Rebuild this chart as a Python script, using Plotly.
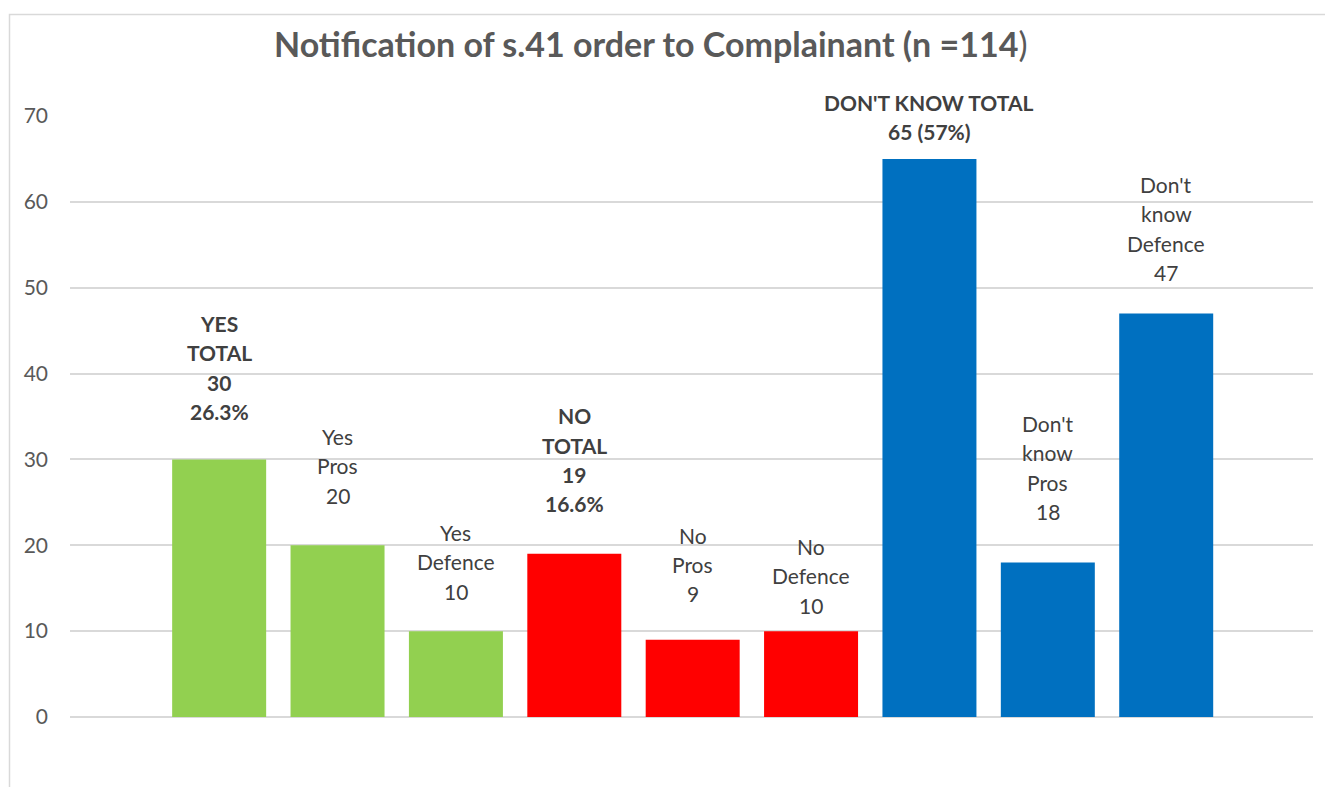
import plotly.graph_objects as go

# ---- data ----
categories = ["YES TOTAL", "Yes Pros", "Yes Defence", "NO TOTAL", "No Pros",
              "No Defence", "DON'T KNOW TOTAL", "Don't know Pros", "Don't know Defence"]
values = [30, 20, 10, 19, 9, 10, 65, 18, 47]
label_lines = [
    ["YES", "TOTAL", "30", "26.3%"],
    ["Yes", "Pros", "20"],
    ["Yes", "Defence", "10"],
    ["NO", "TOTAL", "19", "16.6%"],
    ["No", "Pros", "9"],
    ["No", "Defence", "10"],
    ["DON'T KNOW TOTAL", "65 (57%)"],
    ["Don't", "know", "Pros", "18"],
    ["Don't", "know", "Defence", "47"],
]
label_bold = [True, False, False, True, False, False, True, False, False]
y_ticks = [0, 10, 20, 30, 40, 50, 60, 70]
title_main = "Notification of s.41 order to Complainant (n =114"
title_tail = ")"

# ---- styles ----
GREEN, RED, BLUE = "#92D050", "#FF0000", "#0070C0"
bar_colors = [GREEN] * 3 + [RED] * 3 + [BLUE] * 3
label_offsets = [48, 50, 40, 50, 46, 26, 27, 51, 41]  # px from bar top to last line centre
LINE_H = 29.3
FONT = "Lato"
GRID = "#d9d9d9"

fig = go.Figure()
fig.add_trace(go.Bar(
    x=categories, y=values, marker=dict(color=bar_colors, line=dict(width=0)),
    hoverinfo="x+y", showlegend=False,
))

annotations = []
for i, (cat, v, lines) in enumerate(zip(categories, values, label_lines)):
    n = len(lines)
    for j, line in enumerate(lines):
        txt = f"<b>{line}</b>" if label_bold[i] else line
        annotations.append(dict(
            x=cat, y=v, xref="x", yref="y", text=txt, showarrow=False,
            xanchor="center", yanchor="middle",
            yshift=label_offsets[i] + (n - 1 - j) * LINE_H,
            font=dict(family=FONT, size=21, color="#404040"),
        ))

annotations.append(dict(
    x=(650 - 70) / 1243, y=1 + (116 - 43) / 601, xref="paper", yref="paper",
    text=f"<b>{title_main}</b>{title_tail}", showarrow=False, xanchor="center", yanchor="middle",
    font=dict(family=FONT, size=34, color="#595959"),
))

fig.update_layout(
    width=1325, height=787,
    margin=dict(l=70, r=12, t=116, b=70, pad=0),
    paper_bgcolor="white", plot_bgcolor="white",
    bargap=0.206,
    annotations=annotations,
    shapes=[dict(type="rect", xref="paper", yref="paper",
                 x0=(9.5 - 70) / 1243, x1=1.2, y0=-0.3, y1=1 + (116 - 14.5) / 601,
                 line=dict(color=GRID, width=1.5), fillcolor="rgba(0,0,0,0)", layer="below")],
    xaxis=dict(range=[-1.26, 9.24], showticklabels=False, showgrid=False,
               zeroline=False, showline=False, ticks=""),
    yaxis=dict(range=[0, 70], tickvals=y_ticks, showgrid=True, gridcolor=GRID, gridwidth=1.5,
               zeroline=True, zerolinecolor=GRID, zerolinewidth=1.5, showline=False,
               ticks="", ticklabelstandoff=21,
               tickfont=dict(family=FONT, size=21, color="#595959")),
)

fig.write_html("out.html", config={"displayModeBar": False},
               post_script="document.body.style.margin='0';")
